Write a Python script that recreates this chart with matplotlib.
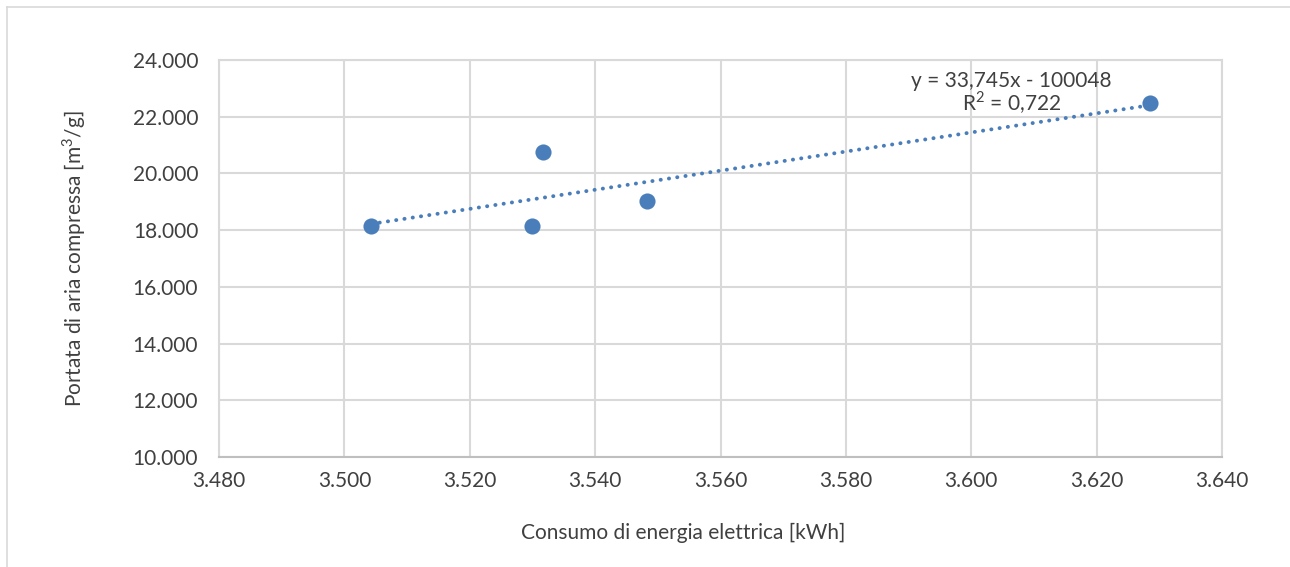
import numpy as np
import matplotlib.pyplot as plt
from matplotlib.lines import Line2D
from matplotlib.ticker import FuncFormatter

plt.rcParams['font.family'] = ['Lato', 'DejaVu Sans']
plt.rcParams['mathtext.fontset'] = 'custom'
plt.rcParams['mathtext.rm'] = 'Lato'

# data
consumo = [3504.3, 3530.0, 3531.7, 3548.3, 3628.5]   # kWh
portata = [18146, 18146, 20756, 19028, 22484]        # m3/g
eq_label = 'y = 33,745x - 100048'
r2_label = 'R$^2$ = 0,722'

blue = '#4a7ebb'
grid_col = '#d9d9d9'
txt = '#404040'
fs = 15

fig = plt.figure(figsize=(12.9, 5.67), dpi=100)
ax = fig.add_axes([219/1290, 1 - 457/567, (1222-219)/1290, (457-60)/567])

ax.scatter(consumo, portata, s=135, color=blue, zorder=3, linewidths=0)

# linear trendline (as Excel does, from min x to max x)
slope, icpt = np.polyfit(consumo, portata, 1)
xs = np.array([min(consumo), max(consumo)])
ax.plot(xs, slope * xs + icpt, color=blue, lw=2.8, linestyle=(0, (0.05, 2.1)),
        dash_capstyle='round', zorder=2)

ax.set_xlim(3480, 3640)
ax.set_ylim(10000, 24000)
ax.set_xticks(np.arange(3480, 3641, 20))
ax.set_yticks(np.arange(10000, 24001, 2000))

fmt = FuncFormatter(lambda v, p: f'{int(v):,}'.replace(',', '.'))
ax.xaxis.set_major_formatter(fmt)
ax.yaxis.set_major_formatter(fmt)

ax.grid(True, color=grid_col, lw=1.5)
ax.set_axisbelow(True)
for s in ax.spines.values():
    s.set_color(grid_col)
    s.set_linewidth(1.5)
ax.spines['bottom'].set_color('#bfbfbf')

ax.tick_params(length=0, labelsize=fs, colors=txt)
ax.tick_params(axis='y', pad=15)
ax.tick_params(axis='x', pad=10)

ax.set_xlabel('Consumo di energia elettrica [kWh]', fontsize=fs, color=txt)
ax.xaxis.set_label_coords(0.4626, -0.165)
ax.set_ylabel('Portata di aria compressa [m$^3$/g]', fontsize=fs, color=txt, labelpad=32)

ax.text(0.79, 0.948, eq_label, transform=ax.transAxes, ha='center', va='center',
        fontsize=fs, color=txt)
ax.text(0.79, 0.892, r2_label, transform=ax.transAxes, ha='center', va='center',
        fontsize=fs, color=txt)

# outer chart frame (left and top edges visible)
fig.add_artist(Line2D([6.5/1290, 6.5/1290], [0, 1 - 6.5/567], transform=fig.transFigure,
                      color=grid_col, lw=1.2))
fig.add_artist(Line2D([6.5/1290, 1], [1 - 6.5/567, 1 - 6.5/567], transform=fig.transFigure,
                      color=grid_col, lw=1.2))

fig.savefig('out.png', dpi=100)
